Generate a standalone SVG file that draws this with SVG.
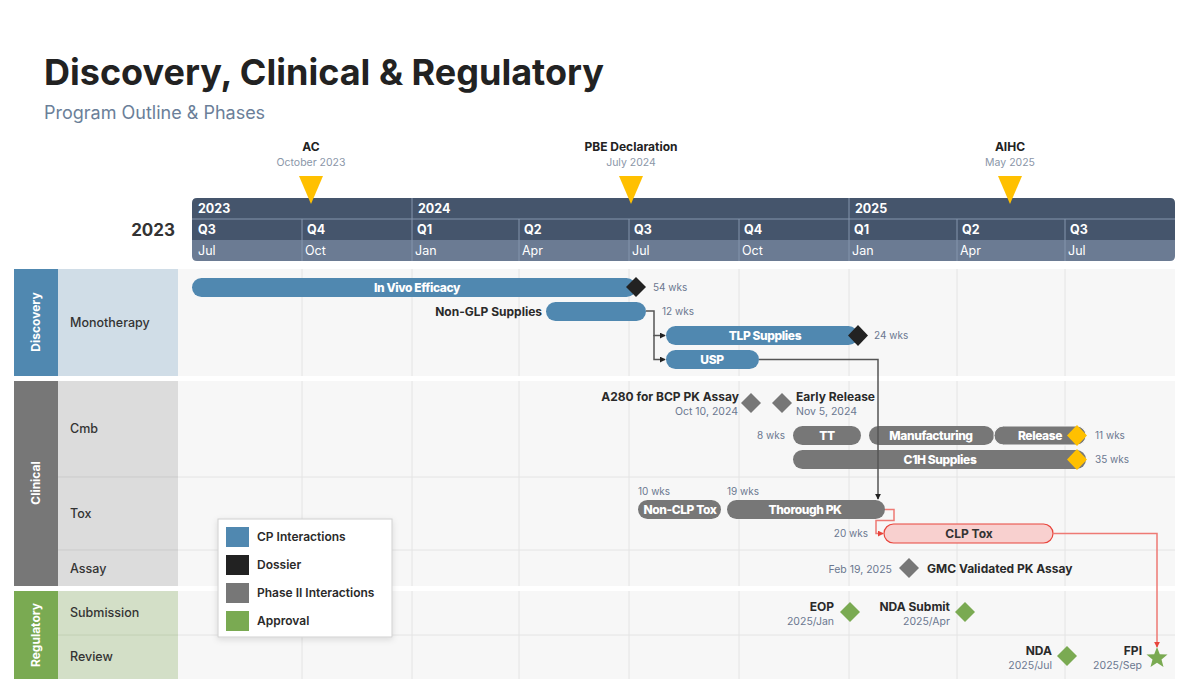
<svg xmlns="http://www.w3.org/2000/svg" width="1189" height="689" viewBox="0 0 1189 689">
<defs>
<style>
text{font-family:Inter,"Noto Sans","Liberation Sans",sans-serif}
.title{font-size:36px;font-weight:700;fill:#222}
.sub{font-size:18px;fill:#6b7f99}
.msl{font-size:12px;font-weight:700;fill:#222;text-anchor:middle}
.msd{font-size:10.5px;fill:#8a96a8;text-anchor:middle}
.hy{font-size:12.5px;font-weight:700;fill:#fff}
.hm{font-size:12.5px;fill:#fff}
.lane{font-size:12px;font-weight:700;fill:#fff;text-anchor:middle}
.subl{font-size:12.5px;font-weight:500;fill:#333}
.bt{font-size:12px;font-weight:800;fill:#fff;text-anchor:middle;letter-spacing:-0.4px}
.wk{font-size:10px;fill:#6b7890}
.lbl{font-size:12px;font-weight:700;fill:#2a2a2a}
.dt{font-size:10.5px;fill:#6b7890}
.grid line{stroke:#e4e4e4;stroke-width:1}
.hdiv{stroke:#8596ad;stroke-width:1}
.blue{fill:#5088b0}
.gray{fill:#777}
.conn{fill:none;stroke:#555;stroke-width:1.5}
.connr{fill:none;stroke:#ee7a74;stroke-width:1.5}
.leg{font-size:12px;font-weight:600;fill:#2a2a2a}
</style>
<marker id="ah" viewBox="0 0 8 8" refX="7" refY="4" markerWidth="6" markerHeight="6" orient="auto" markerUnits="userSpaceOnUse"><path d="M0,0 L8,4 L0,8 Z" fill="#222"/></marker>
<marker id="ahr" viewBox="0 0 8 8" refX="7" refY="4" markerWidth="6" markerHeight="6" orient="auto" markerUnits="userSpaceOnUse"><path d="M0,0 L8,4 L0,8 Z" fill="#e8453c"/></marker>
<filter id="sh" x="-10%" y="-10%" width="120%" height="130%"><feDropShadow dx="0" dy="2" stdDeviation="3" flood-color="#000" flood-opacity="0.12"/></filter>
</defs>
<rect width="1189" height="689" fill="#fff"/>

<g id="title">
<text class="title" x="44" y="85">Discovery, Clinical &amp; Regulatory</text>
<text class="sub" x="44" y="119">Program Outline &amp; Phases</text>
</g>

<g id="header">
<text x="175" y="236" font-size="17" font-weight="700" fill="#333" text-anchor="end">2023</text>
<path d="M192,240 V203 Q192,198 197,198 H1170 Q1175,198 1175,203 V240 Z" fill="#45556c"/>
<path d="M192,240 H1175 V256 Q1175,261 1170,261 H197 Q192,261 192,256 Z" fill="#6b7b93"/>
<line class="hdiv" x1="192" y1="219" x2="1175" y2="219"/>
<line class="hdiv" x1="412" y1="198" x2="412" y2="261"/>
<line class="hdiv" x1="849" y1="198" x2="849" y2="261"/>
<line class="hdiv" x1="302" y1="219" x2="302" y2="261"/>
<line class="hdiv" x1="519" y1="219" x2="519" y2="261"/>
<line class="hdiv" x1="629" y1="219" x2="629" y2="261"/>
<line class="hdiv" x1="739" y1="219" x2="739" y2="261"/>
<line class="hdiv" x1="957" y1="219" x2="957" y2="261"/>
<line class="hdiv" x1="1065" y1="219" x2="1065" y2="261"/>
<text class="hy" x="198" y="213">2023</text>
<text class="hy" x="418" y="213">2024</text>
<text class="hy" x="855" y="213">2025</text>
<text class="hy" x="198" y="234">Q3</text>
<text class="hy" x="307" y="234">Q4</text>
<text class="hy" x="417" y="234">Q1</text>
<text class="hy" x="524" y="234">Q2</text>
<text class="hy" x="634" y="234">Q3</text>
<text class="hy" x="744" y="234">Q4</text>
<text class="hy" x="854" y="234">Q1</text>
<text class="hy" x="962" y="234">Q2</text>
<text class="hy" x="1070" y="234">Q3</text>
<text class="hm" x="198" y="255">Jul</text>
<text class="hm" x="305" y="255">Oct</text>
<text class="hm" x="415" y="255">Jan</text>
<text class="hm" x="522" y="255">Apr</text>
<text class="hm" x="632" y="255">Jul</text>
<text class="hm" x="742" y="255">Oct</text>
<text class="hm" x="852" y="255">Jan</text>
<text class="hm" x="960" y="255">Apr</text>
<text class="hm" x="1068" y="255">Jul</text>
</g>

<g id="ms-ac">
<text class="msl" x="311" y="151">AC</text>
<text class="msd" x="311" y="166">October 2023</text>
<path d="M299,176 H323 L311,204 Z" fill="#ffc000"/>
</g>
<g id="ms-pbe">
<text class="msl" x="631" y="151">PBE Declaration</text>
<text class="msd" x="631" y="166">July 2024</text>
<path d="M619,176 H643 L631,204 Z" fill="#ffc000"/>
</g>
<g id="ms-aihc">
<text class="msl" x="1010" y="151">AIHC</text>
<text class="msd" x="1010" y="166">May 2025</text>
<path d="M998,176 H1022 L1010,204 Z" fill="#ffc000"/>
</g>

<g id="lanes">
<rect x="178" y="269" width="997" height="107" fill="#f7f7f7"/>
<rect x="178" y="381" width="997" height="205" fill="#f7f7f7"/>
<rect x="178" y="591" width="997" height="88" fill="#f7f7f7"/>
<g class="grid">
<line x1="302" y1="269" x2="302" y2="376"/><line x1="412" y1="269" x2="412" y2="376"/><line x1="519" y1="269" x2="519" y2="376"/><line x1="629" y1="269" x2="629" y2="376"/><line x1="739" y1="269" x2="739" y2="376"/><line x1="849" y1="269" x2="849" y2="376"/><line x1="957" y1="269" x2="957" y2="376"/><line x1="1065" y1="269" x2="1065" y2="376"/>
<line x1="302" y1="381" x2="302" y2="586"/><line x1="412" y1="381" x2="412" y2="586"/><line x1="519" y1="381" x2="519" y2="586"/><line x1="629" y1="381" x2="629" y2="586"/><line x1="739" y1="381" x2="739" y2="586"/><line x1="849" y1="381" x2="849" y2="586"/><line x1="957" y1="381" x2="957" y2="586"/><line x1="1065" y1="381" x2="1065" y2="586"/>
<line x1="302" y1="591" x2="302" y2="679"/><line x1="412" y1="591" x2="412" y2="679"/><line x1="519" y1="591" x2="519" y2="679"/><line x1="629" y1="591" x2="629" y2="679"/><line x1="739" y1="591" x2="739" y2="679"/><line x1="849" y1="591" x2="849" y2="679"/><line x1="957" y1="591" x2="957" y2="679"/><line x1="1065" y1="591" x2="1065" y2="679"/>
<line x1="58" y1="477" x2="1175" y2="477"/><line x1="58" y1="550" x2="1175" y2="550"/><line x1="58" y1="635" x2="1175" y2="635"/>
</g>
</g>

<g id="lane-discovery">
<rect x="14" y="269" width="44" height="107" fill="#5088b0"/>
<rect x="58" y="269" width="120" height="107" fill="#d0dde7"/>
<text class="lane" transform="translate(40,322) rotate(-90)">Discovery</text>
<text class="subl" x="70" y="327">Monotherapy</text>
</g>
<g id="lane-clinical">
<rect x="14" y="381" width="44" height="205" fill="#777"/>
<rect x="58" y="381" width="120" height="205" fill="#dcdcdc"/>
<line x1="58" y1="477" x2="178" y2="477" stroke="#cbcbcb"/>
<line x1="58" y1="550" x2="178" y2="550" stroke="#cbcbcb"/>
<text class="lane" transform="translate(40,483) rotate(-90)">Clinical</text>
<text class="subl" x="70" y="433">Cmb</text>
<text class="subl" x="70" y="518">Tox</text>
<text class="subl" x="70" y="573">Assay</text>
</g>
<g id="lane-regulatory">
<rect x="14" y="591" width="44" height="88" fill="#7aaa52"/>
<rect x="58" y="591" width="120" height="88" fill="#d3dfc7"/>
<line x1="58" y1="635" x2="178" y2="635" stroke="#c2d0b4"/>
<text class="lane" transform="translate(40,635) rotate(-90)">Regulatory</text>
<text class="subl" x="70" y="617">Submission</text>
<text class="subl" x="70" y="661">Review</text>
</g>

<g id="in-vivo">
<rect class="blue" x="192" y="278" width="444" height="19" rx="9.5"/>
<text class="bt" x="417" y="292">In Vivo Efficacy</text>
<path d="M636,277 L646,287 L636,297 L626,287 Z" fill="#222"/>
<text class="wk" x="653" y="291">54 wks</text>
</g>
<g id="non-glp">
<text class="lbl" x="542" y="316" text-anchor="end">Non-GLP Supplies</text>
<rect class="blue" x="546" y="302" width="100" height="19" rx="9.5"/>
<text class="wk" x="662" y="315">12 wks</text>
</g>
<g id="tlp">
<rect class="blue" x="666" y="326" width="192" height="19" rx="9.5"/>
<text class="bt" x="765" y="340">TLP Supplies</text>
<path d="M858,325 L868,335.5 L858,346 L848,335.5 Z" fill="#222"/>
<text class="wk" x="874" y="339">24 wks</text>
</g>
<g id="usp">
<rect class="blue" x="666" y="350" width="93" height="19" rx="9.5"/>
<text class="bt" x="712" y="364">USP</text>
</g>

<g id="a280">
<text class="lbl" x="739" y="401" text-anchor="end">A280 for BCP PK Assay</text>
<text class="dt" x="738" y="415" text-anchor="end">Oct 10, 2024</text>
<path d="M751,393 L761,403 L751,413 L741,403 Z" fill="#777"/>
</g>
<g id="early-release">
<path d="M782,393 L792,403 L782,413 L772,403 Z" fill="#777"/>
<text class="lbl" x="796" y="401">Early Release</text>
<text class="dt" x="796" y="415">Nov 5, 2024</text>
</g>
<g id="tt">
<text class="wk" x="785" y="439" text-anchor="end">8 wks</text>
<rect class="gray" x="793" y="426" width="68" height="19" rx="9.5"/>
<text class="bt" x="827" y="440">TT</text>
</g>
<g id="manufacturing">
<rect class="gray" x="869" y="426" width="125" height="19" rx="9.5"/>
<text class="bt" x="931" y="440">Manufacturing</text>
</g>
<g id="release">
<rect class="gray" x="994" y="426" width="92" height="19" rx="9.5" stroke="#f7f7f7" stroke-width="1"/>
<text class="bt" x="1040" y="440">Release</text>
<path d="M1077,425 L1087,435.5 L1077,446 L1067,435.5 Z" fill="#ffc000"/>
<text class="wk" x="1095" y="439">11 wks</text>
</g>
<g id="c1h">
<rect class="gray" x="793" y="450" width="293" height="19" rx="9.5"/>
<text class="bt" x="940" y="464">C1H Supplies</text>
<path d="M1077,449 L1087,459.5 L1077,470 L1067,459.5 Z" fill="#ffc000"/>
<text class="wk" x="1095" y="463">35 wks</text>
</g>

<g id="non-clp">
<text class="wk" x="638" y="495">10 wks</text>
<rect class="gray" x="638" y="500" width="83" height="19" rx="9.5"/>
<text class="bt" x="680" y="514">Non-CLP Tox</text>
</g>
<g id="thorough-pk">
<text class="wk" x="727" y="495">19 wks</text>
<rect class="gray" x="727" y="500" width="158" height="19" rx="9.5"/>
<text class="bt" x="805" y="514">Thorough PK</text>
</g>
<g id="clp-tox">
<text class="wk" x="868" y="537" text-anchor="end">20 wks</text>
<rect x="884" y="524" width="169" height="19" rx="9.5" fill="#f8d0cf" stroke="#e8453c" stroke-width="1.2"/>
<text x="969" y="538" font-size="12px" font-weight="700" fill="#333" text-anchor="middle">CLP Tox</text>
</g>

<g id="gmc">
<text class="dt" x="892" y="573" text-anchor="end">Feb 19, 2025</text>
<path d="M909,558 L919,568 L909,578 L899,568 Z" fill="#777"/>
<text class="lbl" x="927" y="573">GMC Validated PK Assay</text>
</g>

<g id="eop">
<text class="lbl" x="834" y="611" text-anchor="end">EOP</text>
<text class="dt" x="834" y="625" text-anchor="end">2025/Jan</text>
<path d="M850,602 L860,612 L850,622 L840,612 Z" fill="#7aaa52"/>
</g>
<g id="nda-submit">
<text class="lbl" x="950" y="611" text-anchor="end">NDA Submit</text>
<text class="dt" x="950" y="625" text-anchor="end">2025/Apr</text>
<path d="M965,602 L975,612 L965,622 L955,612 Z" fill="#7aaa52"/>
</g>
<g id="nda">
<text class="lbl" x="1052" y="655" text-anchor="end">NDA</text>
<text class="dt" x="1052" y="669" text-anchor="end">2025/Jul</text>
<path d="M1067,646 L1077,656 L1067,666 L1057,656 Z" fill="#7aaa52"/>
</g>
<g id="fpi">
<text class="lbl" x="1142" y="655" text-anchor="end">FPI</text>
<text class="dt" x="1142" y="669" text-anchor="end">2025/Sep</text>
<path d="M1157,647 L1159.8,654.2 L1167.5,654.6 L1161.5,659.5 L1163.5,667 L1157,662.8 L1150.5,667 L1152.5,659.5 L1146.5,654.6 L1154.2,654.2 Z" fill="#7aaa52"/>
</g>

<g id="connectors">
<path class="conn" d="M646,311 H654 V335.5 H665" marker-end="url(#ah)"/>
<path class="conn" d="M654,335 V359.5 H665" marker-end="url(#ah)"/>
<path class="conn" d="M759,359.5 H878 V499" marker-end="url(#ah)"/>
<path class="connr" d="M885,509.5 H894 V520.5 H876 V533.5 H883" marker-end="url(#ahr)"/>
<path class="connr" d="M1053,533.5 H1157 V647" marker-end="url(#ahr)"/>
</g>

<g id="legend">
<rect x="218" y="519" width="174" height="118" fill="#fff" stroke="#d0d0d0" stroke-width="1" filter="url(#sh)"/>
<rect x="226" y="527" width="23" height="20" fill="#5088b0"/>
<text class="leg" x="257" y="541">CP Interactions</text>
<rect x="226" y="555" width="23" height="20" fill="#222"/>
<text class="leg" x="257" y="569">Dossier</text>
<rect x="226" y="583" width="23" height="20" fill="#777"/>
<text class="leg" x="257" y="597">Phase II Interactions</text>
<rect x="226" y="611" width="23" height="20" fill="#7aaa52"/>
<text class="leg" x="257" y="625">Approval</text>
</g>
</svg>
